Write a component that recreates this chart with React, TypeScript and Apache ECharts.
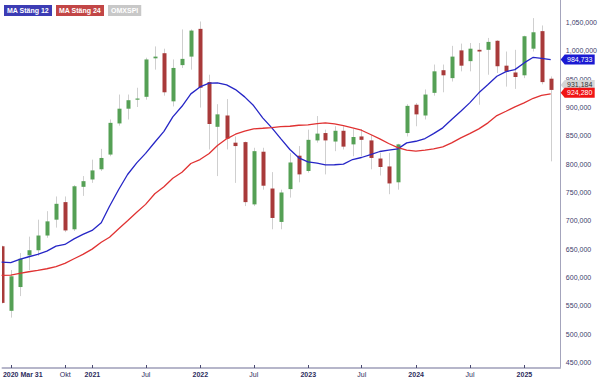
import React, { useEffect, useRef } from 'react';
import * as echarts from 'echarts';

// Monthly OMXSPI candles (values in thousands), plotted at period start date
const dates = [
  '2020-02-29', '2020-03-31', '2020-04-30', '2020-05-31', '2020-06-30', '2020-07-31', '2020-08-31', '2020-09-30', '2020-10-31', '2020-11-30', '2020-12-31',
  '2021-01-31', '2021-02-28', '2021-03-31', '2021-04-30', '2021-05-31', '2021-06-30', '2021-07-31', '2021-08-31', '2021-09-30', '2021-10-31', '2021-11-30', '2021-12-31',
  '2022-01-31', '2022-02-28', '2022-03-31', '2022-04-30', '2022-05-31', '2022-06-30', '2022-07-31', '2022-08-31', '2022-09-30', '2022-10-31', '2022-11-30', '2022-12-31',
  '2023-01-31', '2023-02-28', '2023-03-31', '2023-04-30', '2023-05-31', '2023-06-30', '2023-07-31', '2023-08-31', '2023-09-30', '2023-10-31', '2023-11-30', '2023-12-31',
  '2024-01-31', '2024-02-29', '2024-03-31', '2024-04-30', '2024-05-31', '2024-06-30', '2024-07-31', '2024-08-31', '2024-09-30', '2024-10-31', '2024-11-30', '2024-12-31',
  '2025-01-31', '2025-02-28', '2025-03-31',
];

const opens = [
  655, 541, 583, 639, 648, 674, 702, 733, 685, 760, 773,
  791, 817, 872, 898, 914, 919, 987, 996, 911, 975, 990, 1039,
  945, 866, 886, 838, 839, 729, 822, 757, 698, 756, 815, 788,
  842, 855, 840, 859, 835, 849, 842, 810, 796, 768, 855, 905,
  886, 926, 966, 952, 1001, 982, 1002, 1002, 1018, 974, 962, 957,
  1004, 1035, 951,
];

const closes = [
  555, 602, 633, 648, 674, 699, 730, 683, 761, 770, 789,
  811, 873, 898, 913, 916, 985, 990, 927, 970, 986, 1036, 935,
  871, 888, 845, 832, 733, 823, 762, 705, 750, 803, 782, 843,
  854, 842, 859, 831, 848, 843, 811, 795, 766, 835, 903, 888,
  923, 964, 957, 990, 974, 1004, 999, 1016, 973, 964, 954, 1026,
  1033, 945, 931.184,
];

const highs = [
  656, 613, 643, 672, 702, 717, 743, 743, 763, 779, 808,
  827, 879, 923, 923, 935, 988, 1008, 1004, 985, 1038, 1038, 1052,
  958, 906, 915, 849, 840, 829, 829, 786, 755, 820, 832, 861,
  885, 861, 867, 867, 862, 862, 852, 820, 820, 836, 906, 908,
  932, 976, 976, 1009, 1013, 1014, 1014, 1023, 1019, 999, 1002, 1027,
  1058, 1045, 955,
];

const lows = [
  554, 529, 567, 613, 638, 670, 688, 680, 682, 744, 767,
  788, 814, 868, 879, 901, 914, 967, 921, 902, 970, 967, 900,
  826, 779, 826, 767, 726, 726, 755, 685, 685, 741, 768, 785,
  838, 782, 823, 826, 814, 814, 791, 780, 747, 755, 849, 867,
  879, 921, 927, 946, 964, 964, 905, 958, 961, 937, 933, 952,
  999, 941, 805,
];

const ma12 = [
  627, 626, 632, 636.5, 640.6, 646.4, 655.3, 658.2, 668, 675.9, 683,
  696.5, 725.8, 755.3, 781.8, 802.4, 819, 838.8, 858, 883.6, 902.3, 924.2, 936.5,
  943, 943.6, 940, 931.8, 918.9, 903.5, 881.8, 864.2, 845.2, 826, 811.2, 804,
  801.7, 798.9, 799, 800, 808.2, 811.8, 817, 822.4, 824.7, 827, 837.7, 840.5,
  845.3, 854, 864.2, 878.8, 893.5, 908.3, 926, 940.6, 955.3, 963.5, 967, 978.9,
  988.8, 987, 984.733,
];

const ma24 = [
  603.5, 604, 607, 610, 612.4, 615.3, 618.9, 624.7, 633, 640.6, 650,
  662, 671, 686, 700, 715, 729, 747.7, 760, 775.2, 785.9, 801.2, 808.2,
  818.8, 832.9, 844.8, 852.9, 858.2, 862.4, 863.5, 864.7, 866.3, 867, 868.8, 869.5,
  871.8, 873, 871.2, 868.2, 864.2, 860, 852.4, 844.8, 836.5, 829.4, 824.7, 823,
  824.7, 827, 830.6, 837.7, 846.5, 854, 862.4, 873, 885.9, 893.5, 901.3, 908.3,
  916.4, 921.7, 924.28,
];

const xTickDates = ['2020-03-31', '2020-10-01', '2021-01-01', '2021-07-01', '2022-01-01', '2022-07-01', '2023-01-01', '2023-07-01', '2024-01-01', '2024-07-01', '2025-01-01'];
const xTickLabels = ['2020 Mar 31', 'Okt', '2021', 'Jul', '2022', 'Jul', '2023', 'Jul', '2024', 'Jul', '2025'];

const X_MIN = '2020-03-03';
const X_MAX = '2025-05-01';
const Y_MIN = 440;
const Y_MAX = 1090;
const Y_LABEL_STEP = 50;

const FONT = '"Liberation Sans", Arial, sans-serif';
const GREEN = '#55a055';
const RED = '#a83a3a';
const WICK = '#cfcfcf';
const BLUE_LINE = '#2626c6';
const RED_LINE = '#e03232';
const AXIS_TEXT = '#2c2c5c';

const fmt = (v: number) => Math.round(v * 1000).toLocaleString('en-US');
const ts = (d: string) => Date.parse(d + 'T00:00:00Z');

const TAG = 'path://M0,5L4,0L34,0L34,10L4,10Z';

function buildOption() {
  const last = dates.length - 1;
  const candleData = dates.map((d, i) => [ts(d), opens[i], closes[i], lows[i], highs[i]]);
  const ma12Data = dates.map((d, i) => [ts(d), ma12[i]]);
  const ma24Data = dates.map((d, i) => [ts(d), ma24[i]]);
  const tickTs = xTickDates.map(ts);

  const tagLabel = (color: string) => ({
    show: true,
    position: 'inside',
    offset: [2, 0],
    color,
    fontSize: 7,
    fontFamily: FONT,
    formatter: (p: any) => fmt(p.value),
  });

  return {
    animation: false,
    backgroundColor: '#ffffff',
    textStyle: { fontFamily: FONT },
    grid: { left: 0, right: 35, top: 0, bottom: 13, containLabel: false },
    legend: {
      left: -6,
      top: 0,
      itemGap: -1,
      itemWidth: 0,
      itemHeight: 0,
      icon: 'none',
      selectedMode: false,
      textStyle: {
        fontSize: 7,
        fontWeight: 'bold',
        fontFamily: FONT,
        color: '#ffffff',
        padding: [2, 3, 1, 3],
        lineHeight: 8,
      },
      data: [
        { name: 'MA Stäng 12', textStyle: { backgroundColor: '#3c3cb4' } },
        { name: 'MA Stäng 24', textStyle: { backgroundColor: '#c24646' } },
        { name: 'OMXSPI', textStyle: { backgroundColor: '#c8c8c8' } },
      ],
    },
    xAxis: {
      type: 'value',
      min: ts(X_MIN),
      max: ts(X_MAX),
      splitLine: { show: false },
      axisLine: { show: true, lineStyle: { color: '#b6b6ca', width: 2 } },
      axisTick: {
        show: true,
        inside: true,
        length: 3,
        customValues: tickTs,
        lineStyle: { color: '#4a4a70', width: 1 },
      },
      axisLabel: {
        customValues: tickTs,
        margin: 3,
        fontSize: 7,
        color: AXIS_TEXT,
        fontFamily: FONT,
        formatter: (val: number) => {
          let idx = -1;
          for (let i = 0; i < tickTs.length; i++) {
            if (Math.abs(tickTs[i] - val) < 43200000) idx = i;
          }
          if (idx < 0) return '';
          const t = xTickLabels[idx];
          if (idx === 0) return '{f|' + t + '}';
          if (/^\d{4}$/.test(t)) return '{b|' + t + '}';
          return t;
        },
        rich: {
          b: { fontWeight: 'bold', fontSize: 7, color: AXIS_TEXT, fontFamily: FONT },
          f: { fontWeight: 'bold', fontSize: 7, color: AXIS_TEXT, fontFamily: FONT, padding: [0, 0, 0, 24] },
        },
      },
    },
    yAxis: {
      type: 'value',
      position: 'right',
      min: Y_MIN,
      max: Y_MAX,
      interval: 10,
      splitLine: { show: false },
      axisTick: { show: false },
      axisLine: { show: true, lineStyle: { color: '#a4a4bc', width: 1 } },
      axisLabel: {
        margin: 6,
        fontSize: 7,
        color: '#3c3c6c',
        fontFamily: FONT,
        formatter: (v: number) => (Math.round(v) % Y_LABEL_STEP === 0 ? fmt(v) : ''),
      },
    },
    series: [
      {
        name: 'OMXSPI',
        type: 'custom',
        clip: true,
        silent: true,
        itemStyle: { color: '#c8c8c8' },
        encode: { x: 0, y: [1, 2, 3, 4] },
        data: candleData,
        renderItem: (params: any, api: any) => {
          const x = api.value(0);
          const o = api.value(1);
          const c = api.value(2);
          const l = api.value(3);
          const h = api.value(4);
          const pO = api.coord([x, o]);
          const pC = api.coord([x, c]);
          const pL = api.coord([x, l]);
          const pH = api.coord([x, h]);
          const cx = Math.round(pO[0]);
          const top = Math.min(pO[1], pC[1]);
          const hh = Math.max(Math.abs(pO[1] - pC[1]), 1.2);
          return {
            type: 'group',
            children: [
              {
                type: 'line',
                shape: { x1: cx + 0.5, y1: pH[1], x2: cx + 0.5, y2: pL[1] },
                style: { stroke: WICK, lineWidth: 1 },
              },
              {
                type: 'rect',
                shape: { x: cx - 1.5, y: top, width: 4, height: hh },
                style: { fill: c >= o ? GREEN : RED },
              },
            ],
          };
        },
        markPoint: {
          symbol: TAG,
          symbolSize: [34, 10],
          symbolOffset: [27, -5],
          silent: true,
          itemStyle: { color: '#d6d6d6' },
          label: tagLabel('#333333'),
          data: [{ coord: [ts(dates[last]), closes[last]], value: closes[last] }],
        },
      },
      {
        name: 'MA Stäng 12',
        type: 'line',
        data: ma12Data,
        showSymbol: false,
        silent: true,
        lineStyle: { color: BLUE_LINE, width: 1.3 },
        itemStyle: { color: BLUE_LINE },
        markPoint: {
          symbol: TAG,
          symbolSize: [34, 10],
          symbolOffset: [27, 0],
          silent: true,
          itemStyle: { color: '#1a1ad2' },
          label: tagLabel('#ffffff'),
          data: [{ coord: [ts(dates[last]), ma12[last]], value: ma12[last] }],
        },
      },
      {
        name: 'MA Stäng 24',
        type: 'line',
        data: ma24Data,
        showSymbol: false,
        silent: true,
        lineStyle: { color: RED_LINE, width: 1.3 },
        itemStyle: { color: RED_LINE },
        markPoint: {
          symbol: TAG,
          symbolSize: [34, 10],
          symbolOffset: [27, -1],
          silent: true,
          itemStyle: { color: '#f01414' },
          label: tagLabel('#ffffff'),
          data: [{ coord: [ts(dates[last]), ma24[last]], value: ma24[last] }],
        },
      },
    ],
  };
}

export default function App() {
  const ref = useRef<HTMLDivElement>(null);
  useEffect(() => {
    if (!ref.current) return;
    const chart = echarts.init(ref.current, null, { renderer: 'svg' });
    chart.setOption(buildOption() as any);
    return () => chart.dispose();
  }, []);
  return (
    <div
      ref={ref}
      style={{ position: 'fixed', left: 0, top: 0, width: 600, height: 381, background: '#fff' }}
    />
  );
}
